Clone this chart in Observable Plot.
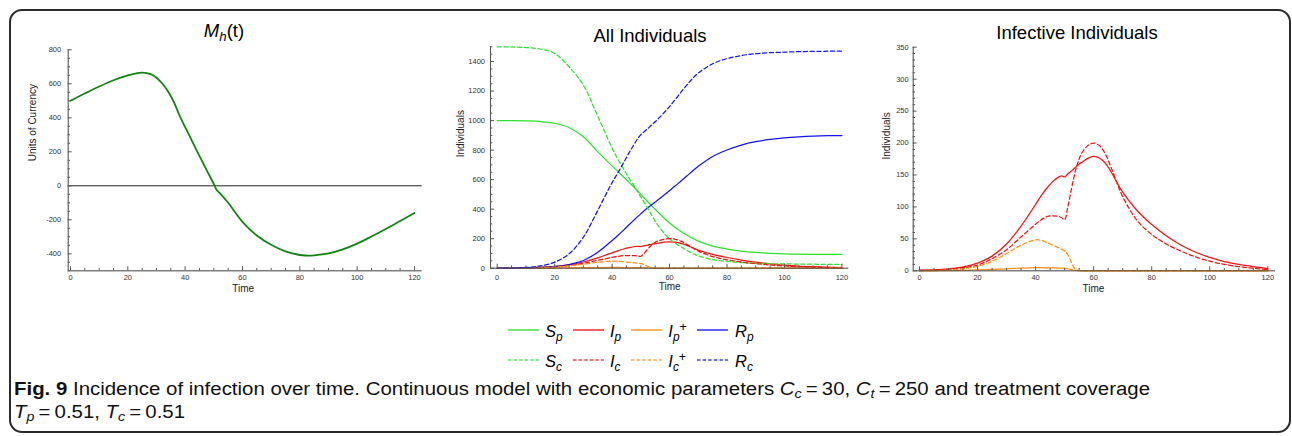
<!DOCTYPE html>
<html>
<head>
<meta charset="utf-8">
<script src="https://cdn.jsdelivr.net/npm/d3@7"></script>
<script src="https://cdn.jsdelivr.net/npm/@observablehq/plot@0.6"></script>
<style>
html,body{margin:0;padding:0;background:#fff;overflow:hidden;}
#root{position:relative;width:1292px;height:436px;font-family:"Liberation Sans",Arial,sans-serif;color:#000;}
.frame{position:absolute;left:9px;top:9px;width:1282px;height:424px;border:2px solid #2b2b2b;border-radius:13px;box-sizing:border-box;}
.panel{position:absolute;top:0;}
.title{position:absolute;white-space:nowrap;font-size:18.5px;line-height:18.5px;transform:translateX(-50%);}
.title sub{font-size:0.72em;vertical-align:-0.28em;line-height:0;}
.leg{position:absolute;white-space:nowrap;font-size:16.5px;line-height:16.5px;font-style:italic;}
.leg sub{font-size:0.72em;vertical-align:-0.3em;line-height:0;}
.leg sup{font-size:0.75em;vertical-align:0.45em;line-height:0;font-style:normal;}
.sw{position:absolute;}
#caption{position:absolute;left:14px;top:0;white-space:nowrap;font-family:"Liberation Sans Narrow","Liberation Sans",Arial,sans-serif;font-size:18px;line-height:23px;color:#111;transform-origin:0 0;}
#caption sub{font-size:0.7em;vertical-align:-0.25em;line-height:0;}
</style>
</head>
<body>
<div id="root">
  <div class="frame"></div>
</div>
<script>
// ---------- DATA ----------
// Panel 1: M_h(t)
const mhTime = [0,5,10,15,20,23,25,28,30,32,34,36,38,40,42,44,46,48,50,51,52,55,60,65,70,75,80,82,85,90,95,100,105,110,115,120];
const mhValues = [500,543,584,621,649,662,666,657,636,602,556,495,415,345,278,208,142,76,10,-25,-42,-100,-212,-292,-347,-386,-407,-410,-409,-398,-374,-340,-298,-254,-207,-160];

// Panels 2 & 3: compartments
const time = [0,5,10,15,20,25,30,35,40,42,44,46,48,49,50,51,52,53,54,55,56,58,60,62,64,66,68,70,75,80,85,90,95,100,105,110,115,120];
const Sp  = [1000,1000,998,994,982,953,890,790,693,656,618,580,542,522,500,479,459,438,418,399,380,342,306,276,249,225,203,183,150,130,116,107,101,97,95,94,93,93];
const Sc  = [1500,1499,1495,1485,1455,1365,1240,1030,815,740,672,608,547,515,483,451,418,385,352,320,290,240,199,170,144,121,100,83,58,46,38,33,30,29,28,27,26,26];
const Ip  = [1,1.5,3,6,12,23,42,70,104,118,130,140,147,148.5,147,151,155,159,163,167,170,176,179,176.5,168.5,155,138.5,123,94,72.5,55,40.5,29.5,21,14.5,10,6.5,3.5];
const Ic  = [0.5,1,2,4.5,9,19,33,53,73,80,85,86,85,83,80,98,120,142,161,175,185,196,200,196,183,162,138,116,78.5,57,42,31,22,15,10,6.5,4,2];
const Ipp = [0,0,0.3,0.7,1.3,2.2,3.2,4.2,4.8,4.8,4.7,4.5,4.3,4.1,4,3.2,2.2,1.2,0.5,0.2,0,0,0,0,0,0,0,0,0,0,0,0,0,0,0,0,0,0];
const Icp = [0,0.3,1,3,7,15,27,40,48.5,47.5,44,40,36,33.5,31,26,17,7,1.5,0.3,0,0,0,0,0,0,0,0,0,0,0,0,0,0,0,0,0,0];
const Rp  = [0,0.5,2,5,10,25,52,108,188,222,258,296,333,351,368,386,403,418,433,448,463,494,526,558,591,624,658,690,757,801,834,857,872,883,890,895,898,899];
const Rc  = [0,1,5,16,41,97,210,391,580,645,715,785,850,880,905,922,939,956,974,992,1011,1052,1095,1143,1193,1240,1285,1322,1385,1420,1441,1453,1460,1464,1467,1469,1470,1471];

// Tick labels
const xTicks = [0,20,40,60,80,100,120];
const yTicks1 = [-400,-200,0,200,400,600,800];
const yTicks2 = [0,200,400,600,800,1000,1200,1400];
const yTicks3 = [0,50,100,150,200,250,300,350];

// Legend
const legendNames = [["S","p"],["I","p"],["I","p","+"],["R","p"],["S","c"],["I","c"],["I","c","+"],["R","c"]];

// ---------- STYLE ----------
const green="#2ee02e", red="#f01414", orange="#ff9014", blue="#1414ee", darkGreen="#138413";
const axisColor="#555";
const dash="4.2,2.6";

const seriesAll = [
  {v:Sp, c:green, d:null},{v:Ip, c:red, d:null},{v:Ipp, c:orange, d:null},{v:Rp, c:blue, d:null},
  {v:Sc, c:green, d:dash},{v:Ic, c:red, d:dash},{v:Icp, c:orange, d:dash},{v:Rc, c:blue, d:dash}
];
const seriesInf = [
  {v:Ip, c:red, d:null},{v:Ipp, c:orange, d:null},
  {v:Ic, c:red, d:dash},{v:Icp, c:orange, d:dash}
];
const rows = (ts, vs) => ts.map((t,i)=>({t, v: vs[i]}));

function minor(lo, hi, step, majorStep){
  return d3.range(lo, hi + step/2, step).filter(v => Math.abs(v/majorStep - Math.round(v/majorStep)) > 1e-9);
}

function panel(cfg){
  const fw = cfg.width - cfg.ml - cfg.mr, fh = cfg.height - cfg.mt - cfg.mb;
  const marks = [
    ...(cfg.before || []),
    ...cfg.lines.map(s => Plot.line(s.data, {x:"t", y:"v", stroke:s.c, strokeWidth:s.w || 1.25, strokeDasharray:s.d, curve:"catmull-rom"})),
    Plot.ruleX([cfg.xDomain[0]], {stroke:axisColor, strokeWidth:1.1}),
    Plot.ruleY([cfg.yDomain[0]], {stroke:"#4a4a4a", strokeOpacity:0.7, strokeWidth:1.4}),
    Plot.tickY(cfg.yTicks, {y:d=>d, insetRight:fw-4, stroke:axisColor}),
    Plot.tickY(cfg.yMinor, {y:d=>d, insetRight:fw-2.3, stroke:axisColor}),
    Plot.tickX(xTicks, {x:d=>d, insetTop:fh-4, stroke:axisColor}),
    Plot.tickX(minor(5,120,5,20), {x:d=>d, insetTop:fh-2.3, stroke:axisColor}),
    Plot.axisY(cfg.yTicks, {tickSize:0, tickPadding:cfg.yPad, tickFormat:d=>String(d), fontSize:7.5, fill:"#333", label:null}),
    Plot.axisX(xTicks, {tickSize:0, tickPadding:cfg.xPad, tickFormat:d=>String(d), fontSize:7.5, fill:"#333", label:null}),
    Plot.text([cfg.ylabel], {text:d=>d, frameAnchor:"left", rotate:-90, dx:cfg.ylx, dy:cfg.yly, fontSize:10, fill:"#222"}),
    Plot.text(["Time"], {text:d=>d, frameAnchor:"bottom", dx:cfg.xlx, dy:cfg.xly, fontSize:10, fill:"#222"})
  ];
  const svg = Plot.plot({
    width: cfg.width, height: cfg.height,
    marginLeft: cfg.ml, marginRight: cfg.mr, marginTop: cfg.mt, marginBottom: cfg.mb,
    x: {domain: cfg.xDomain, label:null},
    y: {domain: cfg.yDomain, label:null},
    style: {fontFamily:"'Liberation Sans', Arial, sans-serif", background:"transparent", overflow:"visible"},
    marks
  });
  const wrap = document.createElement("div");
  wrap.className = "panel";
  wrap.style.left = cfg.left + "px";
  wrap.appendChild(svg);
  document.getElementById("root").appendChild(wrap);
}

// Panel 1
panel({
  left:0, width:430, height:300, ml:67.7, mr:8.3, mt:49.3, mb:29.7,
  xDomain:[-0.8,122.7], yDomain:[-500,800],
  yTicks:yTicks1, yMinor:minor(-500,800,50,200), yPad:7, xPad:3.6,
  ylabel:"Units of Currency", ylx:-35, yly:1, xlx:-2, xly:21,
  before:[Plot.ruleY([0], {stroke:"#222", strokeWidth:1})],
  lines:[{data:rows(mhTime, mhValues), c:darkGreen, d:null, w:1.8}]
});

// Panel 2
panel({
  left:430, width:430, height:300, ml:60, mr:11.7, mt:46, mb:32.3,
  xDomain:[-2.33,122.4], yDomain:[0,1502],
  yTicks:yTicks2, yMinor:minor(50,1500,50,200), yPad:5.5, xPad:6,
  ylabel:"Individuals", ylx:-30, yly:0, xlx:0, xly:21.5,
  lines: seriesAll.map(s => ({data:rows(time, s.v), c:s.c, d:s.d}))
});

// Panel 3
panel({
  left:860, width:432, height:300, ml:52.7, mr:17, mt:46.7, mb:29.7,
  xDomain:[-2.17,122.65], yDomain:[0,350],
  yTicks:yTicks3, yMinor:minor(10,350,10,50), yPad:4.5, xPad:3.7,
  ylabel:"Individuals", ylx:-26.7, yly:0.5, xlx:-1, xly:21,
  lines: seriesInf.map(s => ({data:rows(time, s.v), c:s.c, d:s.d}))
});

// ---------- Titles ----------
const root = document.getElementById("root");
function addTitle(html, cx, baseline){
  const d = document.createElement("div");
  d.className = "title";
  d.innerHTML = html;
  d.style.left = cx + "px";
  d.style.top = (baseline - 0.8465*18.5) + "px";
  root.appendChild(d);
}
addTitle("<i>M</i><sub><i>h</i></sub>(t)", 224, 37.3);
addTitle("All Individuals", 650, 42.7);
addTitle("Infective Individuals", 1077, 39.3);

// ---------- Legend ----------
const legColors = [green, red, orange, blue];
const swX = [507.8, 573.3, 631, 696.7];
const lbX = [545, 610, 668.3, 735];
const rowLineY = [330.3, 359.7];
const rowBase = [337, 366.5];
legendNames.forEach((nm, i) => {
  const r = Math.floor(i/4), k = i % 4;
  const sw = document.createElementNS("http://www.w3.org/2000/svg","svg");
  sw.setAttribute("width", 31); sw.setAttribute("height", 6);
  sw.setAttribute("class","sw");
  sw.style.left = swX[k] + "px"; sw.style.top = (rowLineY[r]-3) + "px";
  const ln = document.createElementNS("http://www.w3.org/2000/svg","line");
  ln.setAttribute("x1",0); ln.setAttribute("x2",31); ln.setAttribute("y1",3); ln.setAttribute("y2",3);
  ln.setAttribute("stroke", legColors[k]); ln.setAttribute("stroke-width", 1.7); ln.setAttribute("stroke-opacity", 0.8);
  if (r === 1) ln.setAttribute("stroke-dasharray","3.4,2.2");
  sw.appendChild(ln);
  root.appendChild(sw);
  const lb = document.createElement("div");
  lb.className = "leg";
  lb.innerHTML = nm[0] + "<sub>" + nm[1] + "</sub>" + (nm[2] ? "<sup>" + nm[2] + "</sup>" : "");
  lb.style.left = lbX[k] + "px";
  lb.style.top = (rowBase[r] - 0.8465*16.5) + "px";
  root.appendChild(lb);
});

// ---------- Caption ----------
const cap = document.createElement("div");
cap.id = "caption";
cap.innerHTML = '<span id="cap1"><b>Fig. 9</b> Incidence of infection over time. Continuous model with economic parameters <i>C</i><sub><i>c</i></sub>&#8201;=&#8201;30, <i>C</i><sub><i>t</i></sub>&#8201;=&#8201;250 and treatment coverage</span><br><i>T</i><sub><i>p</i></sub>&#8201;=&#8201;0.51, <i>T</i><sub><i>c</i></sub>&#8201;=&#8201;0.51';
root.appendChild(cap);
const baseline1 = 397;
cap.style.top = (baseline1 - (23 - 18)/2 - 0.905*18) + "px";
const w1 = document.getElementById("cap1").getBoundingClientRect().width;
cap.style.transform = "scaleX(" + (1136 / w1) + ")";
</script>
</body>
</html>
